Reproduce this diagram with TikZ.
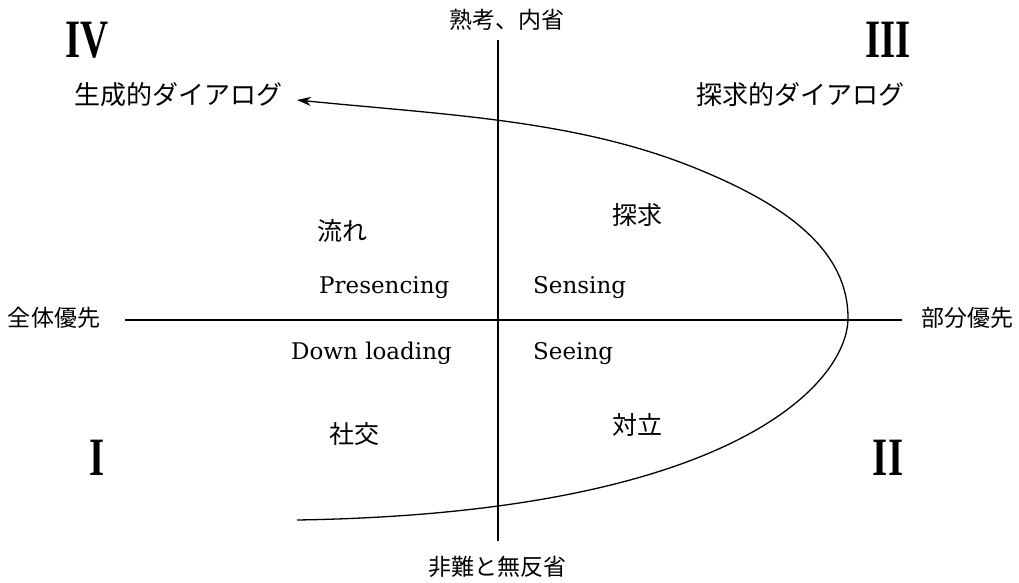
\documentclass[tikz,border=0pt]{standalone}
\usepackage{fontspec}
\setmainfont{DejaVu Serif}
\newfontfamily\jpfont{Noto Sans CJK JP}
\newfontfamily\romanfont{Liberation Serif}
\usetikzlibrary{arrows.meta}
\begin{document}
\begin{tikzpicture}[x=1pt,y=-1pt,
  jlabel/.style={font=\jpfont\fontsize{25}{25}\selectfont, inner sep=0pt},
  axlabel/.style={font=\jpfont\fontsize{23}{23}\selectfont, inner sep=0pt},
  dlabel/.style={font=\jpfont\fontsize{26}{26}\selectfont, inner sep=0pt},
  elabel/.style={font=\fontsize{23}{23}\selectfont, inner sep=0pt, anchor=base west},
  numeral/.style={font=\romanfont\bfseries\fontsize{54}{54}\selectfont, inner sep=0pt, xscale=0.72},
  axisline/.style={line width=1.3pt},
  flow/.style={line width=1.3pt, -{Stealth[length=14pt,width=9pt]}}]
\useasboundingbox (0,0) rectangle (1019,583);

% axes end points
\coordinate (vtop) at (498,40);
\coordinate (vbot) at (498,541);
\coordinate (hleft) at (125,320);
\coordinate (hright) at (902,320);
\draw[axisline] (vtop) -- (vbot);
\draw[axisline] (hleft) -- (hright);

% axis labels
\node[axlabel] (top) at (507,20) {熟考、内省};
\node[axlabel] (bottom) at (497,567) {非難と無反省};
\node[axlabel] (left) at (54,318) {全体優先};
\node[axlabel] (right) at (967,318) {部分優先};

% quadrant numerals
\node[numeral] (q4) at (87,40) {IV};
\node[numeral] (q3) at (888,40) {III};
\node[numeral] (q1) at (97,458) {I};
\node[numeral] (q2) at (888,458) {II};

% dialogue labels
\node[dlabel] (gen) at (178,95) {生成的ダイアログ};
\node[dlabel] (inq) at (800,95) {探求的ダイアログ};

% inner labels
\node[jlabel] (nagare) at (342,231) {流れ};
\node[jlabel] (tankyu) at (637,215) {探求};
\node[jlabel] (shako) at (354,434) {社交};
\node[jlabel] (tairitsu) at (637,425) {対立};

\node[elabel] (pres) at (319,293) {Presencing};
\node[elabel] (sens) at (533,293) {Sensing};
\node[elabel] (down) at (291,359) {Down loading};
\node[elabel] (seei) at (533,359) {Seeing};

% flow curve
\coordinate (cstart) at (297,520);
\coordinate (cmid) at (848,318);
\coordinate (cupper) at (700,170);
\coordinate (cend) at (297,100);
\draw[flow] (cstart) .. controls (737,513) and (848,381) .. (cmid)
  .. controls (848,247) and (780,203) .. (cupper)
  .. controls (580,120) and (447,115) .. (cend);
\end{tikzpicture}
\end{document}
